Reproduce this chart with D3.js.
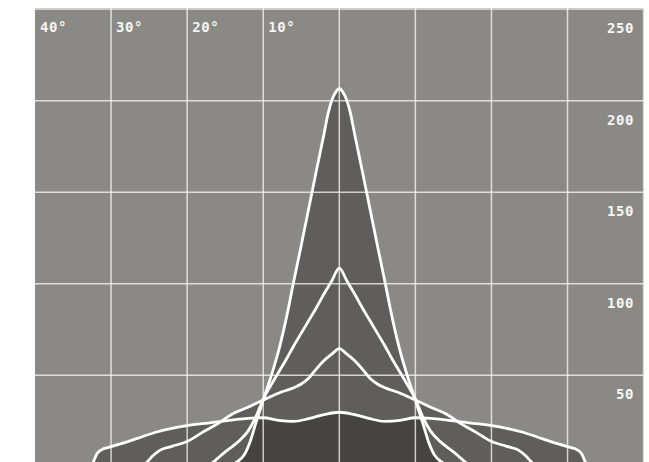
<!DOCTYPE html>
<html>
<head>
<meta charset="utf-8">
<script src="https://cdn.jsdelivr.net/npm/d3@7"></script>
<style>
  body { margin: 0; background: #fff; }
  text { font-family: "DejaVu Sans Mono", monospace; font-weight: bold; font-size: 14px; letter-spacing: 0.6px; fill: #f6f6f4; }
</style>
</head>
<body>
<script>
// beam curves, angle in degrees -> intensity
var narrowAngles = [-14.5,-13.5,-12.5,-11.7,-11,-10,-9,-8,-7,-6,-5,-4,-3,-2,-1.5,-1,-0.5,0,0.5,1,1.5,2,3,4,5,6,7,8,9,10,11,11.7,12.5,13.5,14.5];
var narrowValues = [0,2.5,6.5,14,23.5,36.5,49,63,80.5,101,121,141.5,162,182,192.5,200,204.5,206.5,204.5,200,192.5,182,162,141.5,121,101,80.5,63,49,36.5,23.5,14,6.5,2.5,0];

var mediumAngles = [-17.5,-17,-16,-15,-14,-13,-12,-11,-10,-9,-8,-7,-6,-5,-4,-3,-2,-1,0,1,2,3,4,5,6,7,8,9,10,11,12,13,14,15,16,17,17.5];
var mediumValues = [0,1.2,4.6,8.2,11.3,14.8,19.5,27,37,44.5,51.5,58.5,66,73,80,87,94.5,101.5,108.5,101.5,94.5,87,80,73,66,58.5,51.5,44.5,37,27,19.5,14.8,11.3,8.2,4.6,1.2,0];

var wideAngles = [-26,-25.3,-24.5,-23.6,-22,-20,-18,-16,-14,-12,-10,-8,-6,-5,-4,-3,-2,-1,0,1,2,3,4,5,6,8,10,12,14,16,18,20,22,23.6,24.5,25.3,26];
var wideValues = [0,2.5,6,9,11.2,13.8,18.8,23.5,29,32.5,36.5,40.2,43.2,45.2,48.5,53.5,58,61.5,64.5,61.5,58,53.5,48.5,45.2,43.2,40.2,36.5,32.5,29,23.5,18.8,13.8,11.2,9,6,2.5,0];

var flatAngles = [-32.7,-32.3,-31.8,-31,-30,-29,-28,-26,-24,-22,-20,-18,-16,-14,-12,-10,-8,-6,-4,-2,0,2,4,6,8,10,12,14,16,18,20,22,24,26,28,29,30,31,31.8,32.3,32.7];
var flatValues = [0,3,7.5,9.8,11,12.2,13.5,16.3,19,21,22.5,23.6,24.5,25.6,26.5,26.8,25.3,24.8,26.3,28.5,29.8,28.5,26.3,24.8,25.3,26.8,26.5,25.6,24.5,23.6,22.5,21,19,16.3,13.5,12.2,11,9.8,7.5,3,0];

var degreeTicks = [-40, -30, -20, -10];
var degreeLabels = ["40°", "30°", "20°", "10°"];
var valueTicks = [250, 200, 150, 100, 50];

var w = 649;
var h = 462;

var x = d3.scaleLinear().domain([-40, 40]).range([35, 643.6]);
var y = d3.scaleLinear().domain([0, 250]).range([466.8, 9.1]);

var svg = d3.select("body")
  .append("svg")
  .attr("width", w)
  .attr("height", h);

var curves = [
  [narrowAngles, narrowValues],
  [mediumAngles, mediumValues],
  [wideAngles, wideValues],
  [flatAngles, flatValues]
].map(function(c) {
  return c[0].map(function(a, i) { return [a, c[1][i]]; });
});

var area = d3.area()
  .x(function(d) { return x(d[0]); })
  .y0(y(0))
  .y1(function(d) { return y(d[1]); })
  .curve(d3.curveMonotoneX);

var line = d3.line()
  .x(function(d) { return x(d[0]); })
  .y(function(d) { return y(d[1]); })
  .curve(d3.curveMonotoneX);

// plot background
svg.append("rect")
  .attr("x", x(-40))
  .attr("y", y(250) - 1)
  .attr("width", x(40) - x(-40) + 0.5)
  .attr("height", y(0) - y(250) + 1)
  .attr("fill", "#8a8985");

// union of all beams
svg.selectAll("path.union")
  .data(curves)
  .enter()
  .append("path")
  .attr("class", "union")
  .attr("d", area)
  .attr("fill", "#5f5e5c");

// clip paths for the common part
var defs = svg.append("defs");
curves.forEach(function(c, i) {
  defs.append("clipPath")
    .attr("id", "clip" + i)
    .append("path")
    .attr("d", area(c));
});

var g = svg;
for (var i = 1; i < curves.length; i++) {
  g = g.append("g").attr("clip-path", "url(#clip" + i + ")");
}
g.append("path")
  .attr("d", area(curves[0]))
  .attr("fill", "#454442");

// grid
var grid = svg.append("g")
  .attr("stroke", "#fff")
  .attr("stroke-opacity", 0.72)
  .attr("stroke-width", 1.5);

grid.selectAll("line.v")
  .data([-30, -20, -10, 0, 10, 20, 30, 40])
  .enter()
  .append("line")
  .attr("x1", function(d) { return x(d); })
  .attr("x2", function(d) { return x(d); })
  .attr("y1", y(250) - 1)
  .attr("y2", y(0));

grid.selectAll("line.h")
  .data(valueTicks)
  .enter()
  .append("line")
  .attr("x1", x(-40))
  .attr("x2", x(40))
  .attr("y1", function(d) { return y(d); })
  .attr("y2", function(d) { return y(d); });

// beam outlines
svg.selectAll("path.beam")
  .data(curves)
  .enter()
  .append("path")
  .attr("class", "beam")
  .attr("d", line)
  .attr("fill", "none")
  .attr("stroke", "#fff")
  .attr("stroke-width", 2.8);

// labels
svg.selectAll("text.deg")
  .data(degreeTicks)
  .enter()
  .append("text")
  .attr("x", function(d) { return x(d) + 5; })
  .attr("y", y(250) + 23)
  .text(function(d, i) { return degreeLabels[i]; });

svg.selectAll("text.val")
  .data(valueTicks)
  .enter()
  .append("text")
  .attr("x", 634)
  .attr("y", function(d) { return y(d) + 24; })
  .attr("text-anchor", "end")
  .text(function(d) { return d; });
</script>
</body>
</html>
